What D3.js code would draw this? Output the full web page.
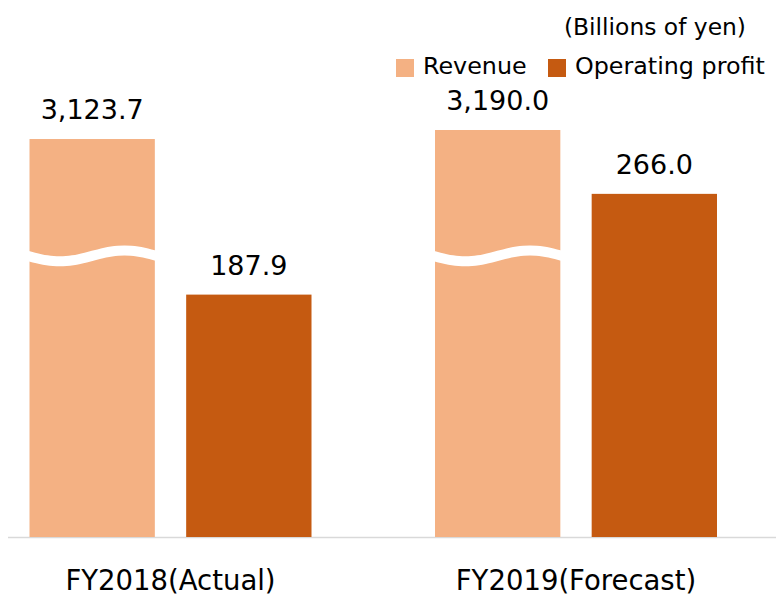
<!DOCTYPE html>
<html>
<head>
<meta charset="utf-8">
<script src="https://cdn.jsdelivr.net/npm/d3@7"></script>
<style>
  html, body { margin: 0; padding: 0; background: #fff; }
  svg { display: block; font-family: "DejaVu Sans", Verdana, sans-serif; }
</style>
</head>
<body>
<svg id="chart" width="776" height="597"></svg>
<script>
// ---- data ----
const categories = ["FY2018(Actual)", "FY2019(Forecast)"];
const seriesNames = ["Revenue", "Operating profit"];
const revenue = [3123.7, 3190.0];
const operatingProfit = [187.9, 266.0];
const valueLabels = [["3,123.7", "187.9"], ["3,190.0", "266.0"]];
const unitLabel = "(Billions of yen)";
const colors = ["#F4B183", "#C55A11"];

// ---- layout ----
const W = 776, H = 597;
const baseY = 537;
const svg = d3.select("#chart");

const x0 = d3.scalePoint().domain(categories).range([170.5, 576]);
const x1 = d3.scaleBand().domain(seriesNames).range([-141, 141]).paddingInner(0.2);

// operating profit: true scale from zero
const yOp = d3.scaleLinear().domain([0, 300]).range([baseY, baseY - 300 * 1.29]);
// revenue: broken axis (floor value hidden by the wave break)
const revFloor = 200;
const yRev = d3.scaleLinear().domain([revFloor, 3190]).range([baseY, 130]);
const breakValue = 2265;

const rows = categories.map((c, i) => ({
  cat: c,
  vals: [
    { s: seriesNames[0], v: revenue[i], y: yRev(revenue[i]), label: valueLabels[i][0], color: colors[0], broken: true },
    { s: seriesNames[1], v: operatingProfit[i], y: yOp(operatingProfit[i]), label: valueLabels[i][1], color: colors[1], broken: false }
  ]
}));

// baseline
svg.append("line")
  .attr("x1", 8).attr("x2", W)
  .attr("y1", baseY + 0.5).attr("y2", baseY + 0.5)
  .attr("stroke", "#D9D9D9").attr("stroke-width", 1.5);

const g = svg.selectAll("g.cat").data(rows).join("g")
  .attr("class", "cat")
  .attr("transform", d => `translate(${x0(d.cat)},0)`);

const bars = g.selectAll("g.bar").data(d => d.vals).join("g").attr("class", "bar");

bars.append("rect")
  .attr("x", d => x1(d.s))
  .attr("width", x1.bandwidth())
  .attr("y", d => d.y)
  .attr("height", d => baseY - d.y)
  .attr("fill", d => d.color);

// wave break on revenue bars
const waveLine = d3.line().curve(d3.curveBasis);
bars.filter(d => d.broken).append("path")
  .attr("d", d => {
    const xa = x1(d.s) - 2, xb = x1(d.s) + x1.bandwidth() + 2;
    const c = yRev(breakValue);
    const pts = d3.range(0, 21).map(k => {
      const t = k / 20;
      return [xa + (xb - xa) * t, c + 5.5 * Math.sin(2 * Math.PI * t)];
    });
    return waveLine(pts);
  })
  .attr("fill", "none")
  .attr("stroke", "#fff")
  .attr("stroke-width", 10);

// value labels
bars.append("text")
  .attr("x", d => x1(d.s) + x1.bandwidth() / 2)
  .attr("y", d => d.y - 20)
  .attr("text-anchor", "middle")
  .attr("font-size", 27)
  .attr("fill", "#000")
  .text(d => d.label);

// category labels
svg.selectAll("text.cat").data(categories).join("text")
  .attr("class", "cat")
  .attr("x", d => x0(d))
  .attr("y", 590)
  .attr("text-anchor", "middle")
  .attr("font-size", 27.5)
  .attr("fill", "#000")
  .text(d => d);

// unit label
svg.append("text")
  .attr("x", 746).attr("y", 35)
  .attr("text-anchor", "end")
  .attr("font-size", 23.4)
  .attr("fill", "#000")
  .text(unitLabel);

// legend
const legendX = [396, 548];
const lg = svg.selectAll("g.leg").data(seriesNames).join("g")
  .attr("class", "leg")
  .attr("transform", (d, i) => `translate(${legendX[i]},59)`);
lg.append("rect").attr("width", 18).attr("height", 18).attr("fill", (d, i) => colors[i]);
lg.append("text")
  .attr("x", 27).attr("y", 15)
  .attr("font-size", 23.8)
  .attr("fill", "#000")
  .text(d => d);
</script>
</body>
</html>
